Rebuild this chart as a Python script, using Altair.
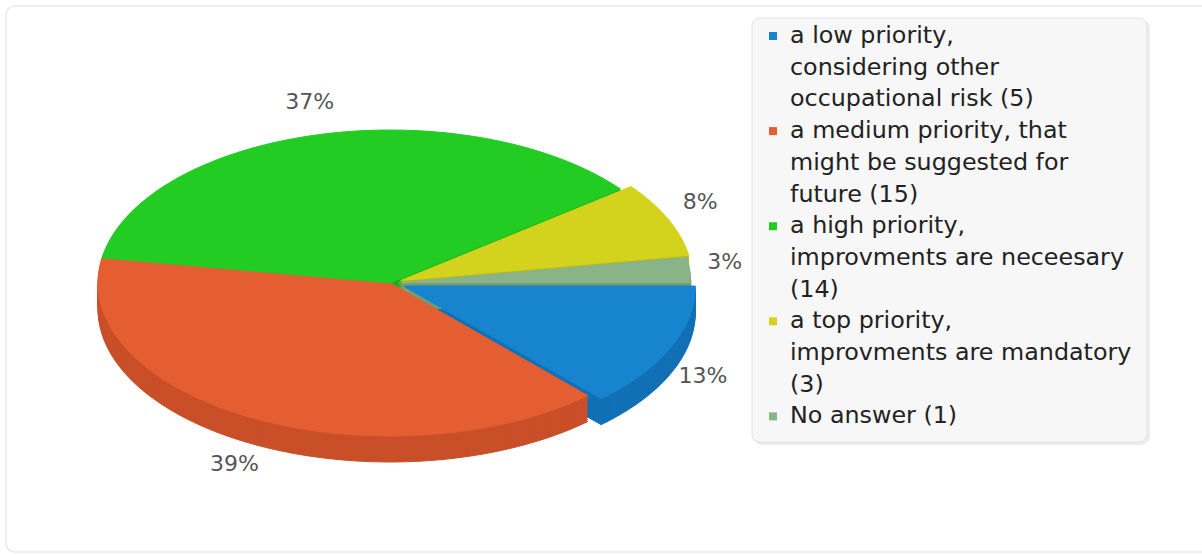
import altair as alt
import pandas as pd

# ---------------- data ----------------
categories = [
    "a low priority, considering other occupational risk",
    "a medium priority, that might be suggested for future",
    "a high priority, improvments are neceesary",
    "a top priority, improvments are mandatory",
    "No answer",
]
counts = [5, 15, 14, 3, 1]
legend_lines = [
    ["a low priority,", "considering other", "occupational risk (5)"],
    ["a medium priority, that", "might be suggested for", "future (15)"],
    ["a high priority,", "improvments are neceesary", "(14)"],
    ["a top priority,", "improvments are mandatory", "(3)"],
    ["No answer (1)"],
]

# ---------------- style ----------------
top_colors = ["#1784cf", "#e45e32", "#22cc22", "#d3d31e", "#89b389"]
side_colors = ["#1270b6", "#c94f29", "#1cb01c", "#b8b819", "#739c73"]
explode = [0.05, 0.0, 0.0, 0.04, 0.03]

W, H = 1202, 556
CX, CY, RX, RY, DEPTH = 390, 283, 292, 153, 26
N = 72
FONT = "DejaVu Sans"

side_keys = [c + " |side" for c in categories]
color_scale = alt.Scale(domain=categories + side_keys, range=top_colors + side_colors)
XS = alt.Scale(domain=[0, W], range=[0, W], nice=False, zero=False)
YS = alt.Scale(domain=[0, H], range=[0, H], nice=False, zero=False)

pie_df = pd.DataFrame({
    "idx": list(range(len(categories))),
    "cat": categories,
    "count": counts,
    "ex": explode,
})


def pie_base():
    return (
        alt.Chart(pie_df)
        .transform_joinaggregate(total="sum(count)")
        .transform_window(cum="sum(count)", sort=[alt.SortField("idx")], frame=[None, 0])
        .transform_calculate(
            a0="2*PI*(datum.cum-datum.count)/datum.total",
            a1="2*PI*datum.cum/datum.total",
        )
        .transform_calculate(mid="(datum.a0+datum.a1)/2")
        .transform_calculate(
            ox=f"datum.ex*{RX}*cos(datum.mid)",
            oy=f"datum.ex*{RY}*sin(datum.mid)",
        )
    )


def polygon(base, lev_expr):
    return (
        base.transform_calculate(t=f"sequence(0, {N + 3})")
        .transform_flatten(["t"])
        .transform_calculate(lev=lev_expr)
        .transform_flatten(["lev"])
        .transform_calculate(
            ang=f"datum.a0 + (datum.a1-datum.a0)*(datum.t-1)/{N}",
        )
        .transform_calculate(
            edge=f"(datum.t==0 || datum.t=={N + 2}) ? 0 : 1",
        )
        .transform_calculate(
            px=f"{CX} + datum.ox + datum.edge*{RX}*cos(datum.ang)",
            py=f"{CY} + datum.oy + datum.edge*{RY}*sin(datum.ang) + datum.lev",
        )
    )


side = (
    polygon(pie_base(), f"sequence({DEPTH}, 0, -2)")
    .transform_calculate(key="datum.cat + ' |side'")
    .mark_line(filled=True, strokeWidth=1, interpolate="linear")
    .encode(
        x=alt.X("px:Q", scale=XS, axis=None),
        y=alt.Y("py:Q", scale=YS, axis=None),
        color=alt.Color("key:N", scale=color_scale, legend=None),
        stroke=alt.Stroke("key:N", scale=color_scale, legend=None),
        detail=["cat:N", "lev:Q"],
        order=alt.Order("t:Q"),
    )
)

top = (
    polygon(pie_base(), "[0]")
    .transform_calculate(key="datum.cat")
    .mark_line(filled=True, strokeWidth=1, interpolate="linear")
    .encode(
        x=alt.X("px:Q", scale=XS, axis=None),
        y=alt.Y("py:Q", scale=YS, axis=None),
        color=alt.Color("key:N", scale=color_scale, legend=None),
        stroke=alt.Stroke("key:N", scale=color_scale, legend=None),
        detail="cat:N",
        order=alt.Order("t:Q"),
    )
)

labels = (
    pie_base()
    .transform_calculate(
        lx=f"{CX} + datum.ox + cos(datum.mid)*{RX}*1.12",
        ly=f"{CY} + datum.oy + sin(datum.mid)*{RY}*(sin(datum.mid)>0 ? 1.25 : 1.18) + (sin(datum.mid)>0 ? {DEPTH}*0.5 : -6)",
        txt="format(datum.count/datum.total, '.0%')",
    )
    .mark_text(font=FONT, fontSize=22, color="#555555", align="center", baseline="middle")
    .encode(
        x=alt.X("lx:Q", scale=XS, axis=None),
        y=alt.Y("ly:Q", scale=YS, axis=None),
        text="txt:N",
    )
)

# ---------------- legend ----------------
LX_SYM, LX_TXT, LY0, LDY = 773, 790, 36, 31.7
rows = []
line_no = 0
item_rows = []
for i, lines in enumerate(legend_lines):
    item_rows.append({"cat": categories[i], "line": line_no})
    for ln in lines:
        rows.append({"cat": categories[i], "line": line_no, "text": ln})
        line_no += 1
leg_text_df = pd.DataFrame(rows)
leg_sym_df = pd.DataFrame(item_rows)

frame = alt.Chart(pd.DataFrame({"a": [0]})).mark_rect(
    fill="white", stroke="#e9e9e9", strokeWidth=1.5, cornerRadius=9
).encode(x=alt.value(6), x2=alt.value(1215), y=alt.value(6), y2=alt.value(552))

leg_shadow = alt.Chart(pd.DataFrame({"a": [0]})).mark_rect(
    fill="#ededed", cornerRadius=9
).encode(x=alt.value(753), x2=alt.value(1150), y=alt.value(20), y2=alt.value(445))

leg_box = alt.Chart(pd.DataFrame({"a": [0]})).mark_rect(
    fill="#f7f7f7", stroke="#e2e2e2", strokeWidth=1, cornerRadius=8
).encode(x=alt.value(752), x2=alt.value(1147), y=alt.value(18), y2=alt.value(442))

leg_sym = (
    alt.Chart(leg_sym_df)
    .transform_calculate(ly=f"{LY0} + {LDY}*datum.line", lx=f"{LX_SYM}")
    .mark_square(size=64, opacity=1)
    .encode(
        x=alt.X("lx:Q", scale=XS, axis=None),
        y=alt.Y("ly:Q", scale=YS, axis=None),
        color=alt.Color("cat:N", scale=color_scale, legend=None),
    )
)

leg_txt = (
    alt.Chart(leg_text_df)
    .transform_calculate(ly=f"{LY0} + {LDY}*datum.line", lx=f"{LX_TXT}")
    .mark_text(font=FONT, fontSize=23.8, color="#222222", align="left", baseline="middle")
    .encode(
        x=alt.X("lx:Q", scale=XS, axis=None),
        y=alt.Y("ly:Q", scale=YS, axis=None),
        text="text:N",
    )
)

chart = (
    alt.layer(frame, side, top, labels, leg_shadow, leg_box, leg_sym, leg_txt)
    .properties(width=W, height=H, autosize=alt.AutoSizeParams(type="none"), padding=0, background="white")
    .configure_view(stroke=None)
)

chart.save("out.html", embed_options={"renderer": "svg", "actions": False})
